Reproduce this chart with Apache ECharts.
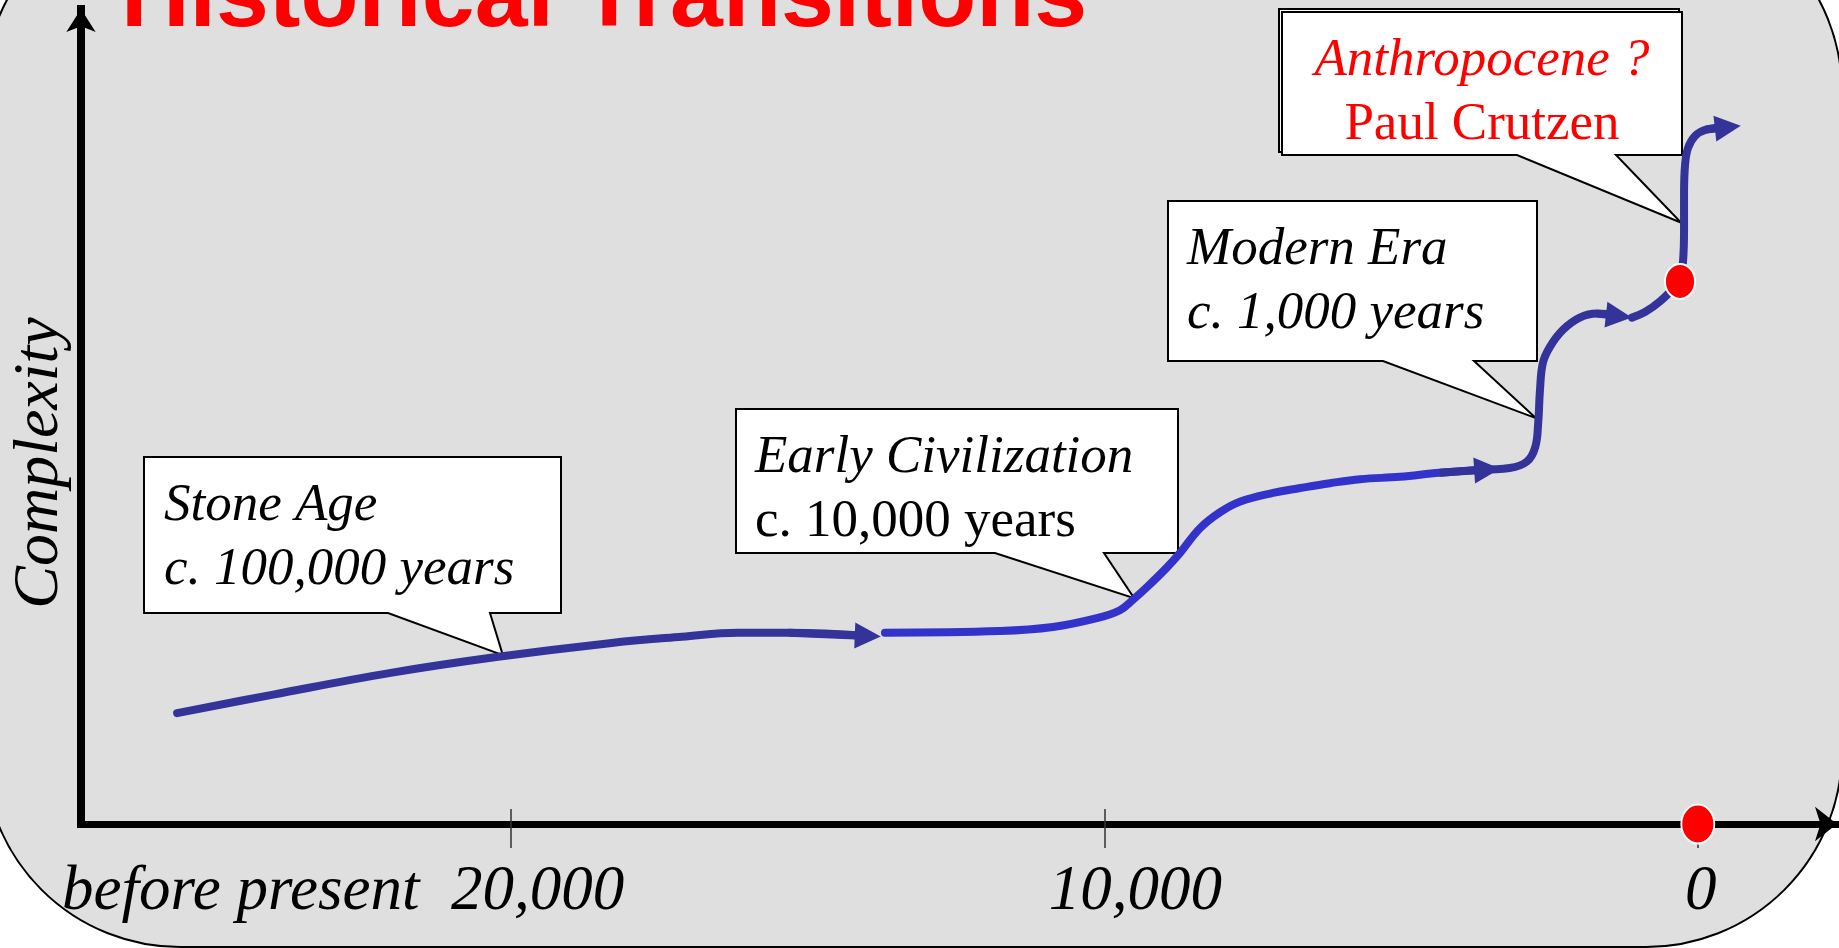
<!DOCTYPE html>
<html>
<head>
<meta charset="utf-8">
<title>Historical Transitions</title>
<script src="https://cdn.jsdelivr.net/npm/echarts@6/dist/echarts.min.js"></script>
<style>
  html, body { margin: 0; padding: 0; background: #fff; }
  #main { width: 1839px; height: 948px; }
</style>
</head>
<body>
<div id="main"></div>
<script>
// years before present / complexity (arbitrary 0-100 scale)
var stoneAgeYears = [25630, 24010, 22030, 20220, 18340, 17120, 16180, 15320, 13990];
var stoneAgeLevel = [13.8, 16.1, 18.8, 20.8, 22.5, 23.3, 23.8, 23.8, 23.4];

var civYears = [13700, 11760, 10870, 10130, 9740, 9520, 9280, 8950, 8730, 8390, 8050, 7720, 7160, 6700, 6200, 5690, 5020, 4350, 3550];
var civLevel = [23.8, 24.0, 24.5, 25.6, 26.6, 27.9, 29.5, 31.9, 33.7, 36.8, 38.8, 40.1, 41.2, 41.8, 42.4, 42.9, 43.2, 43.7, 44.1];

var modernYears = [3670, 3170, 2880, 2740, 2690, 2660, 2610, 2490, 2270, 1990, 1700, 1330];
var modernLevel = [44.1, 44.3, 45.1, 46.9, 49.9, 54.0, 57.4, 59.4, 61.5, 63.0, 63.5, 63.2];

var lateYears = [1110, 890, 640, 300];
var lateLevel = [63.0, 63.7, 65.0, 67.5];

var anthroYears = [300, 250, 232, 232, 215, 165, 47, -138, -506];
var anthroLevel = [67.5, 69.9, 73.9, 78.3, 82.0, 84.1, 85.6, 86.4, 86.7];

// red markers: today on the axis, and the start of the anthropocene
var dotYears = [0, 300];
var dotLevel = [0, 67.5];

var tickYears = [20000, 10000, 0];
var tickLabels = ['before present  20,000', '10,000', '0'];

var calloutTitles = ['Stone Age', 'Early Civilization', 'Modern Era', 'Anthropocene ?'];
var calloutNotes = ['c. 100,000 years', 'c. 10,000 years', 'c. 1,000 years', 'Paul Crutzen'];
var calloutYears = [20140, 9500, 2730, 280];
var calloutLevel = [21.0, 28.1, 50.5, 74.8];

var NAVY = '#333399';
var BLUE = '#3333cc';

// callout boxes (pixels): box rect, pointer base on the bottom edge
var boxLayout = [
  { x: 144, y: 457, w: 417, h: 156, base: [388, 490], pad: 20, center: false, color: '#000', styles: ['italic', 'italic'] },
  { x: 736, y: 409, w: 442, h: 144, base: [995, 1104], pad: 19, center: false, color: '#000', styles: ['italic', 'normal'] },
  { x: 1168, y: 201, w: 369, h: 160, base: [1383, 1474], pad: 19, center: false, color: '#000', styles: ['italic', 'italic'] },
  { x: 1282, y: 12, w: 400, h: 143, base: [1517, 1616], pad: 0, center: true, color: '#ff0000', styles: ['italic', 'normal'], shadow: true }
];

function pts(years, level) {
  return years.map(function (y, i) { return [-y, level[i]]; });
}

var segments = [
  { data: pts(stoneAgeYears, stoneAgeLevel), color: NAVY, arrow: true },
  { data: pts(civYears, civLevel), color: BLUE, arrow: true, arrowColor: NAVY },
  { data: pts(modernYears, modernLevel), color: NAVY, arrow: true },
  { data: pts(lateYears, lateLevel), color: NAVY, arrow: false },
  { data: pts(anthroYears, anthroLevel), color: NAVY, arrow: true }
];

var series = [];
segments.forEach(function (s) {
  series.push({
    type: 'line',
    data: s.data,
    smooth: 0.4,
    showSymbol: false,
    symbol: 'none',
    lineStyle: { color: s.color, width: 8, cap: 'round', join: 'round' },
    z: 3
  });
});
series.push({
  type: 'lines',
  coordinateSystem: 'cartesian2d',
  symbol: ['none', 'triangle'],
  symbolSize: [24, 26],
  z: 4,
  data: segments.filter(function (s) { return s.arrow; }).map(function (s) {
    var n = s.data.length;
    return {
      coords: [s.data[n - 2], s.data[n - 1]],
      lineStyle: { color: s.arrowColor || s.color, width: 8, opacity: 1 }
    };
  }),
  lineStyle: { opacity: 1, width: 8 }
});
series.push({
  type: 'scatter',
  clip: false,
  z: 6,
  data: dotYears.map(function (y, i) { return [-y, dotLevel[i]]; }),
  symbolSize: function (v) { return v[1] === 0 ? [33, 39] : [30, 35]; },
  itemStyle: { color: '#ff0000', borderColor: '#ffffff', borderWidth: 2, opacity: 1 }
});

var tickValues = tickYears.map(function (y) { return -y; });
var labelKeys = ['far', 'mid', 'now'];
var labelFont = { fontFamily: 'Liberation Serif', fontStyle: 'italic', fontSize: 63, color: '#000', lineHeight: 64 };

var option = {
  animation: false,
  backgroundColor: '#ffffff',
  title: {
    text: 'Historical Transitions',
    left: 121,
    top: -48,
    padding: 0,
    textStyle: { fontFamily: 'Liberation Sans', fontWeight: 'bold', fontSize: 95, color: '#ff0000' }
  },
  grid: { left: 81, right: 2, top: 9, bottom: 124, outerBoundsMode: 'none', containLabel: false },
  xAxis: [{
    type: 'value',
    min: -27250,
    max: 2346,
    position: 'bottom',
    axisLine: { show: true, onZero: false, symbol: ['none', 'arrow'], symbolSize: [26, 22], lineStyle: { color: '#000', width: 7, cap: 'square' } },
    axisTick: { show: true, customValues: tickValues, length: 24, lineStyle: { color: '#333', width: 1.5 } },
    axisLabel: {
      show: true,
      customValues: tickValues,
      margin: 36,
      formatter: function (v) {
        var i = tickYears.indexOf(Math.round(-v));
        return '{' + labelKeys[i] + '|' + tickLabels[i] + '}';
      },
      rich: {
        far: Object.assign({ padding: [0, 336, 0, 0] }, labelFont),
        mid: Object.assign({ padding: [0, 0, 0, 62] }, labelFont),
        now: Object.assign({ padding: [0, 0, 0, 6] }, labelFont)
      }
    },
    splitLine: { show: false }
  }, {
    type: 'value',
    min: -27250,
    max: 2346,
    position: 'bottom',
    axisLine: { show: false, onZero: false },
    axisTick: { show: true, inside: true, customValues: tickValues, length: 15, lineStyle: { color: '#333', width: 1.5 } },
    axisLabel: { show: false },
    splitLine: { show: false }
  }],
  yAxis: {
    type: 'value',
    min: 0,
    max: 101.4,
    axisLine: { show: true, onZero: false, symbol: ['none', 'arrow'], symbolSize: [22, 23], lineStyle: { color: '#000', width: 8, cap: 'square' } },
    axisTick: { show: false },
    axisLabel: { show: false },
    splitLine: { show: false },
    name: 'Complexity',
    nameLocation: 'middle',
    nameRotate: 90,
    nameGap: 9,
    nameTextStyle: { fontFamily: 'Liberation Serif', fontStyle: 'italic', fontSize: 64, color: '#000', padding: [0, 93, 0, 0] }
  },
  series: series
};

var chart = echarts.init(document.getElementById('main'));
chart.setOption(option);

// panel behind everything, then callouts whose pointers aim at the curve via the axes
var graphics = [{
  type: 'rect',
  id: 'panel',
  z: -100,
  silent: true,
  shape: { x: -16, y: -104, width: 1858, height: 1051, r: 196 },
  style: { fill: '#dfdfdf', stroke: '#000', lineWidth: 2 }
}];
boxLayout.forEach(function (b, i) {
  var tip = chart.convertToPixel({ gridIndex: 0 }, [-calloutYears[i], calloutLevel[i]]);
  if (b.shadow) {
    graphics.push({
      type: 'rect', id: 'shadow' + i, z: 1,
      shape: { x: b.x - 3, y: b.y - 3, width: b.w, height: b.h },
      style: { fill: '#fff', stroke: '#000', lineWidth: 2 }
    });
  }
  graphics.push({
    type: 'polygon', id: 'box' + i, z: 1,
    shape: { points: [
      [b.x, b.y], [b.x + b.w, b.y], [b.x + b.w, b.y + b.h],
      [b.base[1], b.y + b.h], tip, [b.base[0], b.y + b.h], [b.x, b.y + b.h]
    ] },
    style: { fill: '#fff', stroke: '#000', lineWidth: 2 }
  });
  var lines = [calloutTitles[i], calloutNotes[i]];
  lines.forEach(function (t, k) {
    var baseline = b.y + 63 + k * 64;
    graphics.push({
      type: 'text', id: 'text' + i + '_' + k, z: 2,
      x: b.center ? b.x + b.w / 2 : b.x + b.pad,
      y: baseline - 14,
      style: {
        text: t,
        fontFamily: 'Liberation Serif',
        fontStyle: b.styles[k],
        fontSize: 53,
        fill: b.color,
        align: b.center ? 'center' : 'left',
        verticalAlign: 'middle'
      }
    });
  });
});
chart.setOption({ graphic: graphics });
</script>
</body>
</html>
